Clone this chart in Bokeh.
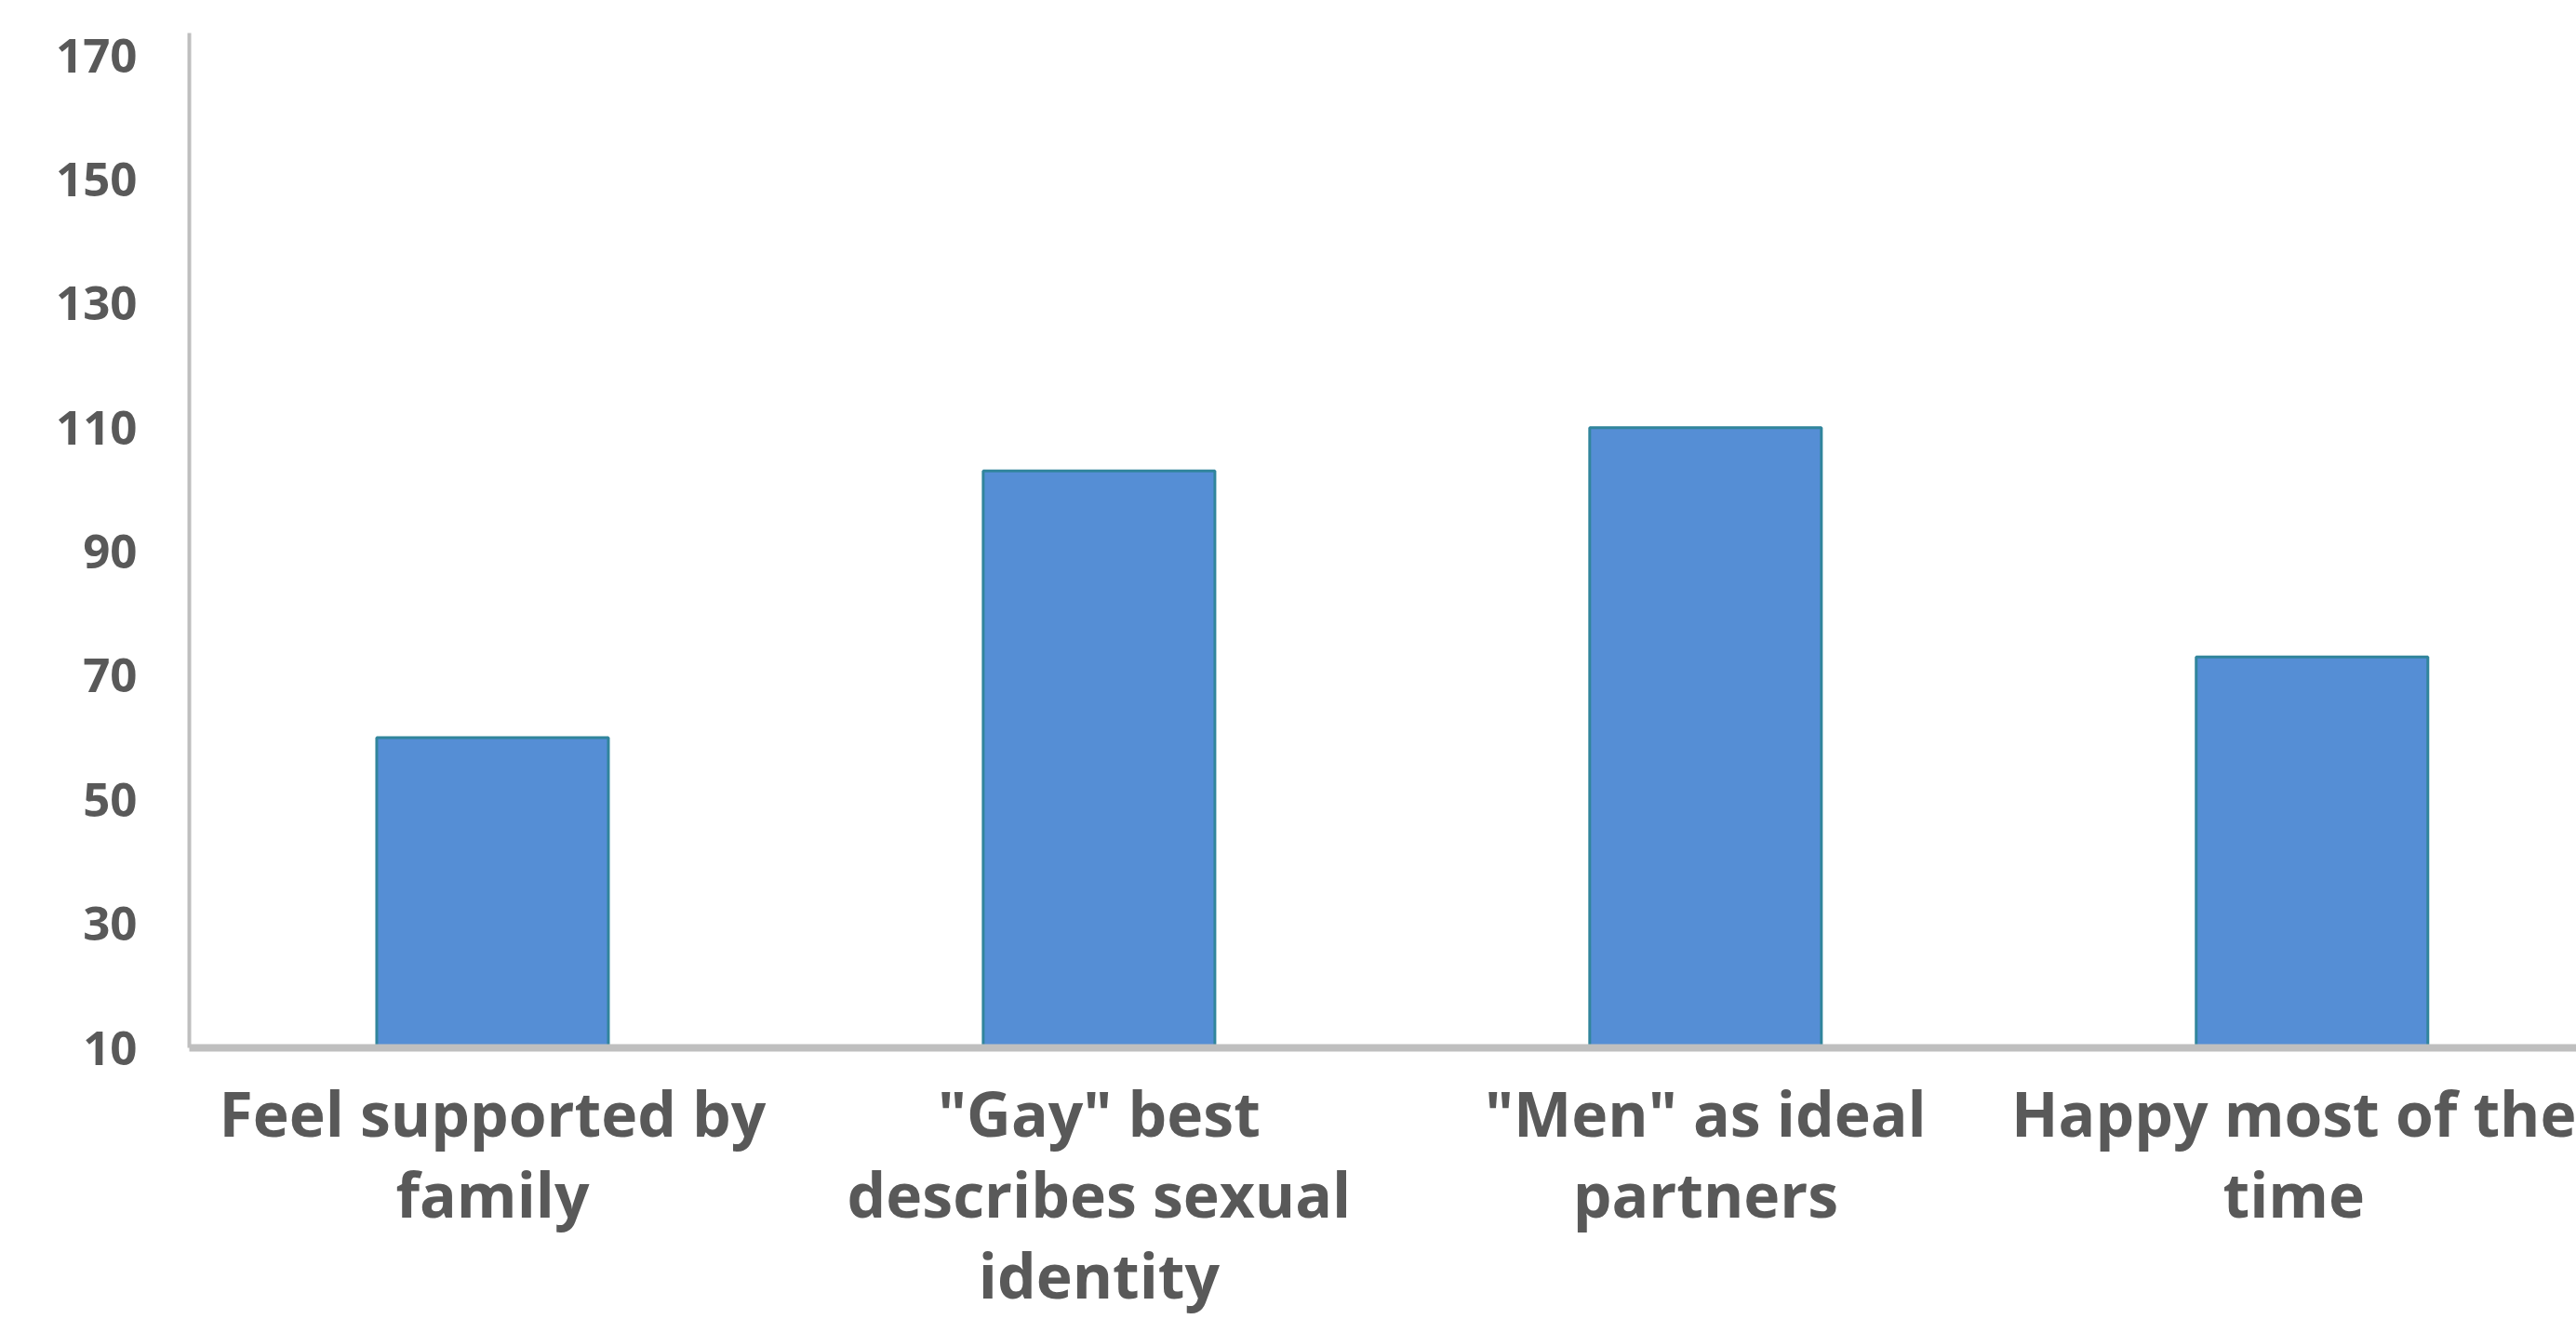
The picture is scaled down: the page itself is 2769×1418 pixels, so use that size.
from bokeh.plotting import figure
from bokeh.models import Range1d, FixedTicker
from bokeh.embed import file_html
from bokeh.resources import INLINE

categories = ["Feel supported by\nfamily",
              "\"Gay\" best\ndescribes sexual\nidentity",
              "\"Men\" as ideal\npartners",
              "Happy most of the\ntime"]
values = [60, 103, 110, 73]
y_ticks = [10, 30, 50, 70, 90, 110, 130, 150, 170]

positions = [i + 0.5 for i in range(len(categories))]

p = figure(width=2769, height=1418, output_backend="svg", toolbar_location=None,
           x_range=Range1d(0, 3.936), y_range=Range1d(10, 173.6),
           min_border_left=203, min_border_right=0, min_border_top=35, min_border_bottom=291)
p.outline_line_color = None
p.background_fill_color = "white"
p.border_fill_color = "white"
p.xgrid.visible = False
p.ygrid.visible = False

p.vbar(x=positions, top=values, bottom=10, width=0.382,
       fill_color="#558ED5", line_color="#31859C", line_width=3)

text_color = "#595959"

p.yaxis.ticker = FixedTicker(ticks=y_ticks)
p.yaxis.axis_line_color = "#BFBFBF"
p.yaxis.axis_line_width = 4
p.yaxis.major_tick_line_color = None
p.yaxis.minor_tick_line_color = None
p.yaxis.major_label_text_font = "Open Sans"
p.yaxis.major_label_text_font_style = "bold"
p.yaxis.major_label_text_font_size = "51px"
p.yaxis.major_label_text_color = text_color
p.yaxis.major_label_standoff = 50

p.xaxis.ticker = FixedTicker(ticks=positions)
p.xaxis.major_label_overrides = {pos: lab for pos, lab in zip(positions, categories)}
p.xaxis.axis_line_color = "#BFBFBF"
p.xaxis.axis_line_width = 8
p.xaxis.major_tick_line_color = None
p.xaxis.minor_tick_line_color = None
p.xaxis.major_label_text_font = "Open Sans"
p.xaxis.major_label_text_font_style = "bold"
p.xaxis.major_label_text_font_size = "66px"
p.xaxis.major_label_text_color = text_color
p.xaxis.major_label_text_line_height = 0.97
p.xaxis.major_label_standoff = 18

open("out.html", "w").write(file_html(p, INLINE))
